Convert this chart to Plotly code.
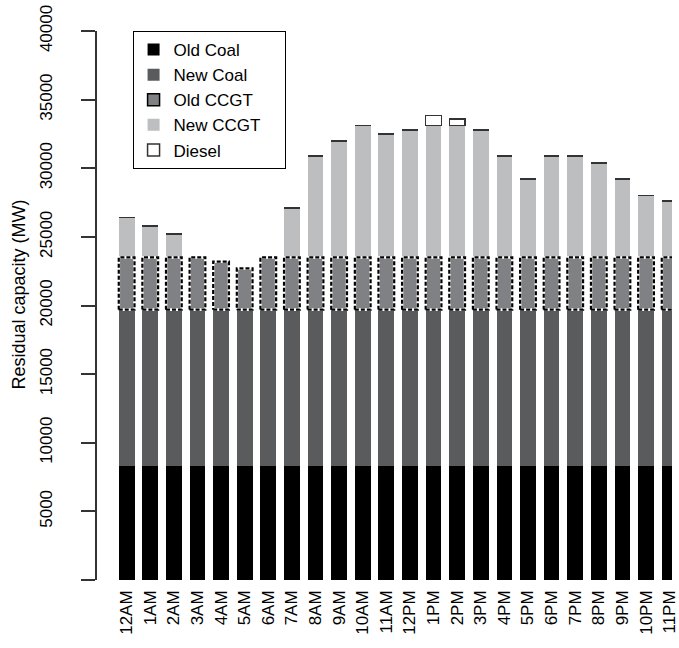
import plotly.graph_objects as go

hours = ["12AM", "1AM", "2AM", "3AM", "4AM", "5AM", "6AM", "7AM", "8AM", "9AM", "10AM", "11AM",
         "12PM", "1PM", "2PM", "3PM", "4PM", "5PM", "6PM", "7PM", "8PM", "9PM", "10PM", "11PM"]

# capacity of each technology (MW) per hour, stacked bottom to top
old_coal = [8300] * 24
new_coal = [11400] * 24
old_ccgt = [3800, 3800, 3800, 3800, 3500, 3000, 3800, 3800, 3800, 3800, 3800, 3800,
            3800, 3800, 3800, 3800, 3800, 3800, 3800, 3800, 3800, 3800, 3800, 3800]
new_ccgt = [2900, 2300, 1700, 0, 0, 0, 0, 3600, 7400, 8500, 9600, 9000,
            9300, 9600, 9600, 9300, 7400, 5700, 7400, 7400, 6900, 5700, 4500, 4100]
diesel = [0] * 13 + [750, 500] + [0] * 9

y_ticks = [0, 5000, 10000, 15000, 20000, 25000, 30000, 35000, 40000]
y_tick_labels = ["", "5000", "10000", "15000", "20000", "25000", "30000", "35000", "40000"]

series = [
    ("Old Coal", old_coal, "#000000"),
    ("New Coal", new_coal, "#5a5b5d"),
    ("Old CCGT", old_ccgt, "#808184"),
    ("New CCGT\u00a0\u00a0\u00a0\u00a0", new_ccgt, "#bdbec0"),
]

x = list(range(len(hours)))
BW = 2 / 3
FONT = "Liberation Sans, Arial, sans-serif"
FS = 17

fig = go.Figure()
for name, vals, col in series:
    line = dict(width=0)
    if name == "Old CCGT":
        line = dict(color="#000000", width=1.5)
    fig.add_trace(go.Bar(x=x, y=vals, name=name, width=BW,
                         marker=dict(color=col, line=line)))
fig.add_trace(go.Bar(x=x, y=diesel, name="Diesel", width=BW,
                     marker=dict(color="#ffffff", line=dict(color="#333333", width=1.5))))

# dashed outlines of the Old CCGT segments, computed from the stacked data
ox, oy = [], []
for i in x:
    b = old_coal[i] + new_coal[i]
    t = b + old_ccgt[i]
    l, r = i - BW / 2, i + BW / 2
    ox += [l, r, r, l, l, None]
    oy += [b, b, t, t, b, None]
fig.add_trace(go.Scatter(x=ox, y=oy, mode="lines", showlegend=False, hoverinfo="skip",
                         line=dict(color="#ffffff", width=2.6)))
fig.add_trace(go.Scatter(x=ox, y=oy, mode="lines", showlegend=False, hoverinfo="skip",
                         line=dict(color="#000000", width=2.2, dash="4px,2px")))

fig.update_layout(
    width=679, height=648,
    barmode="stack",
    plot_bgcolor="white", paper_bgcolor="white",
    margin=dict(l=97, r=0, t=31, b=68),
    font=dict(family=FONT, size=FS, color="#000000"),
    showlegend=True,
    legend=dict(x=(133 - 97) / 582, y=1, xanchor="left", yanchor="top",
                traceorder="normal", bordercolor="#000000", borderwidth=1,
                bgcolor="white", font=dict(size=FS, family=FONT)),
    xaxis=dict(range=[-1.255, 23.1], tickvals=x, ticktext=hours, tickangle=-90,
               showline=False, showgrid=False, zeroline=False, ticks="",
               ticklabelstandoff=6, ticklabeloverflow="allow", tickfont=dict(size=FS)),
    yaxis=dict(range=[0, 40000], tickvals=y_ticks, ticktext=y_tick_labels,
               tickangle=-90, ticks="outside", ticklen=14, tickwidth=1.5,
               tickcolor="#333333", showline=True, linecolor="#333333", linewidth=1.5,
               showgrid=False, zeroline=False, ticklabelstandoff=22,
               tickfont=dict(size=FS)),
    annotations=[dict(text="Residual capacity (MW)", textangle=-90, xref="paper", yref="paper",
                      x=(18 - 97) / 582, y=0.52, xanchor="center", yanchor="middle",
                      showarrow=False, font=dict(size=18, family=FONT))],
)

fig.write_html("out.html", config={"displayModeBar": False},
               post_script="document.body.style.margin='0';")
